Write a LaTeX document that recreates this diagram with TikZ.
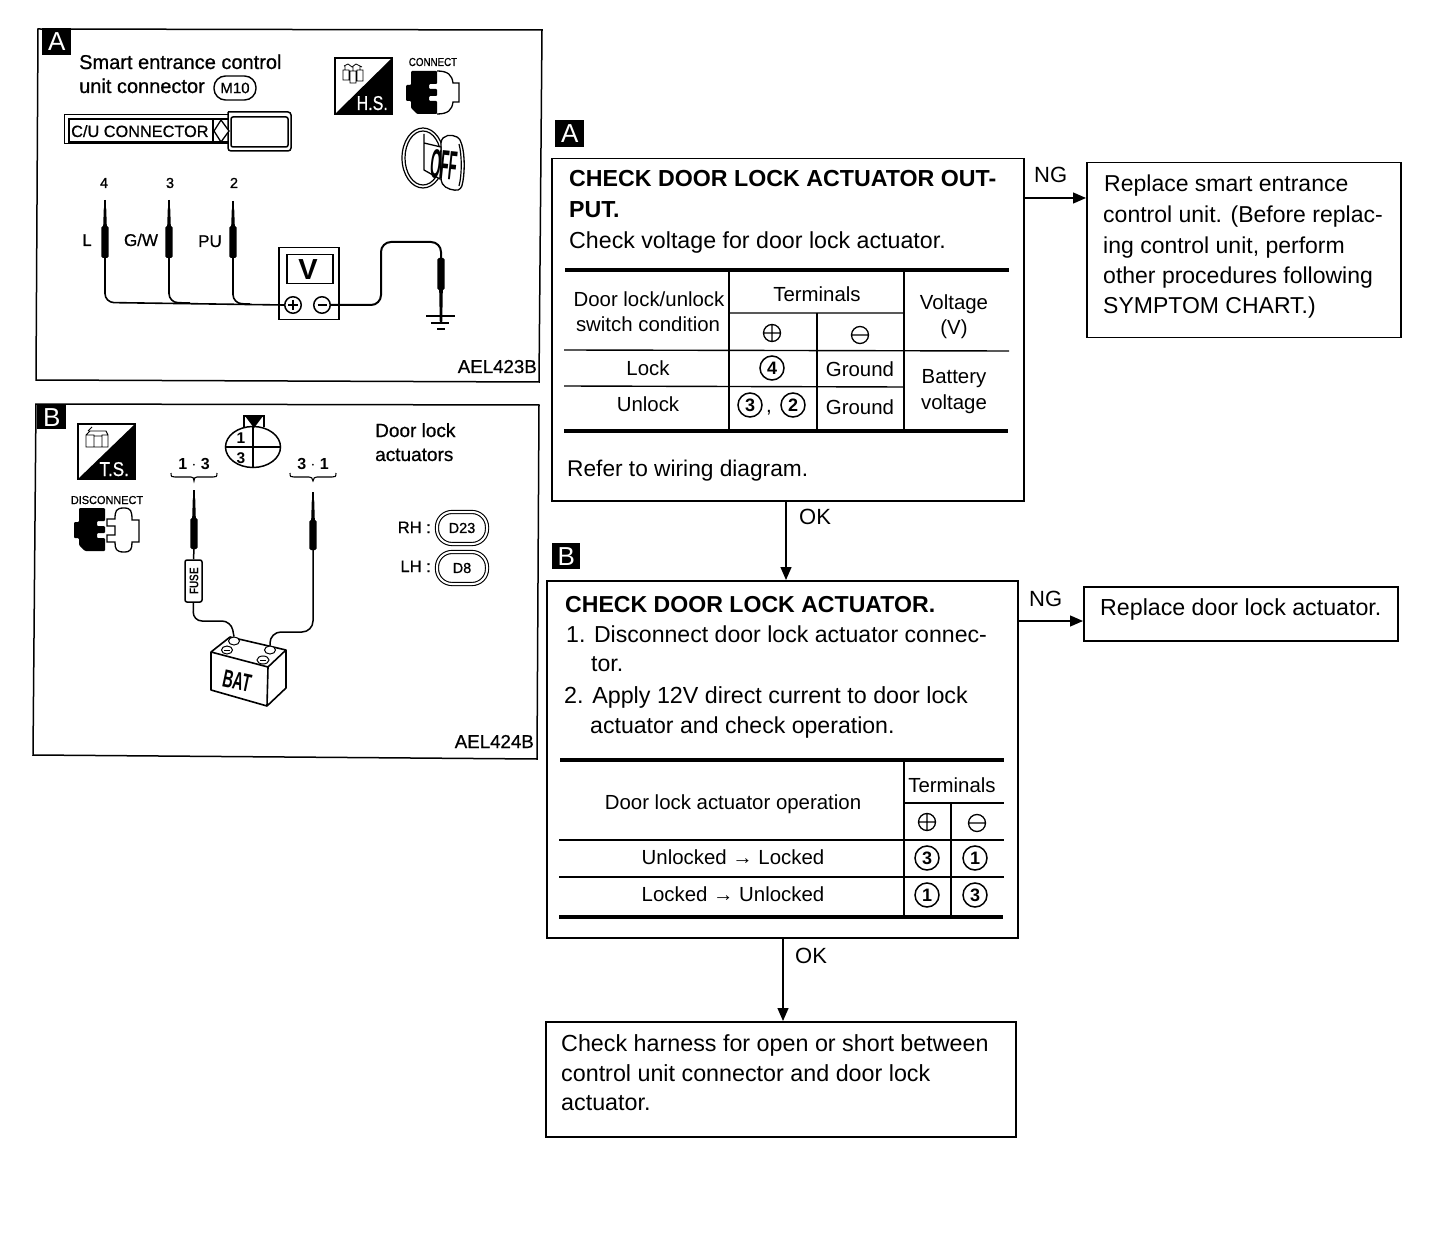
\documentclass[tikz,border=0pt]{standalone}
\usepackage{fontspec}
\setmainfont{Liberation Sans}
\newfontfamily\pf[FakeBold=0.7]{Liberation Sans}
\usetikzlibrary{arrows.meta,calc,shapes.geometric}
\newcounter{tn}
\newcommand\TL[4]{\stepcounter{tn}\node[lab,font=\fontsize{#1pt}{#1pt}\selectfont] (t\thetn) at (#2,#3) {#4};}
\newcommand\TC[4]{\stepcounter{tn}\node[labc,font=\fontsize{#1pt}{#1pt}\selectfont] (t\thetn) at (#2,#3) {#4};}
\newcommand\TR[4]{\stepcounter{tn}\node[labr,font=\fontsize{#1pt}{#1pt}\selectfont] (t\thetn) at (#2,#3) {#4};}
\newcommand\CN[3]{\stepcounter{tn}\node[circnum] (t\thetn) at (#1,#2) {\fontsize{18pt}{18pt}\selectfont\bfseries #3};}
\newcommand\PLUS[2]{\draw[thin line] (#1,#2) circle (8.5) (#1-8.5,#2) -- (#1+8.5,#2) (#1,#2-8.5) -- (#1,#2+8.5);}
\newcommand\MINUS[2]{\draw[thin line] (#1,#2) circle (8.5) (#1-8.5,#2) -- (#1+8.5,#2);}
\newcommand\PROBE[4]{% x, tip y, thick top, thick bottom
  \draw[line width=1.2] (#1,#2) -- (#1,#3);
  \fill (#1-1.2,#2+8) -- (#1+1.2,#2+8) -- (#1+1.8,#3) -- (#1-1.8,#3) -- cycle;
  \fill[rounded corners=1.5] (#1-3.7,#3) rectangle (#1+3.7,#4);}
\newcommand\BLACKPLUG{\fill[rounded corners=1] (5,0) -- (31,0) -- (31,13) -- (23,13) -- (23,18) -- (31,18) -- (31,25) -- (23,25) -- (23,30) -- (31,30) -- (31,43) -- (11,43) -- (5,37) -- (5,30) -- (0,30) -- (0,14) -- (5,14) -- cycle;}
\tikzset{
  x=1pt,y=-1pt,
  lab/.style={inner sep=0pt,anchor=base west},
  labc/.style={inner sep=0pt,anchor=base},
  labr/.style={inner sep=0pt,anchor=base east},
  flowbox/.style={draw,line width=1.5pt,inner sep=0pt,anchor=north west},
  circnum/.style={draw,circle,line width=1.5pt,minimum size=24pt,inner sep=0pt},
  thin line/.style={line width=1.3pt},
  wire/.style={line width=1.6pt,rounded corners=9pt},
  flowarrow/.style={line width=1.3pt,-{Triangle[length=13pt,width=11pt]}},
  rule/.style={line width=1.4pt},
  thickrule/.style={line width=4pt},
  tagbox/.style={fill=black,text=white,inner sep=0pt,anchor=north west,font=\fontsize{26pt}{26pt}\selectfont},
}
\begin{document}
\begin{tikzpicture}
\useasboundingbox (0,0) rectangle (1440,1238);
\fill[white] (0,0) rectangle (1440,1238);
%% Panel A
\draw[line width=1.5pt] (38,29) -- (542,30) -- (539,382) -- (36,380) -- cycle;
\node[tagbox,minimum width=29pt,minimum height=27pt] (tagA) at (42,28) {A};
\TL{20}{79}{69}{\pf Smart entrance control}
\TL{20}{79}{93}{\pf unit connector}
\node[draw,line width=1.4pt,rounded corners=11.5pt,minimum width=42pt,minimum height=24pt,inner sep=0pt,font=\fontsize{15pt}{15pt}\selectfont\pf] (m10) at (235,88) {M10};
% C/U connector label
\draw[line width=1pt] (64,115) rectangle (229,144);
\draw[line width=1.3pt] (69,119) rectangle (229,142);
\draw[line width=1.5pt,fill=white,rounded corners=3pt] (228,112) -- (291,112) -- (291,151) -- (228,151) -- (228,112);
\draw[line width=1.5pt,rounded corners=2pt] (231,117) rectangle (288,147);
\draw[line width=1.3pt] (213,119) -- (213,142);
\draw[line width=1.3pt,fill=white] (221,120) -- (229,131) -- (221,142) -- (214,131) -- cycle;
\TL{16.3}{71}{137}{\pf C/U CONNECTOR}
% H.S. tag
\draw[line width=1.2pt] (335,58) rectangle (392,114);
\fill (392,58) -- (392,114) -- (335,114) -- cycle;
\TR{20}{388}{110}{\color{white}\pf\scalebox{.8}[1]{H.S.}}
\draw[line width=.8pt] (343,70) rectangle (349,80) (350,71) rectangle (356,83) (357,70) rectangle (363,81) (344,66) -- (348,64) -- (352,67) -- (356,64) -- (362,67) (345,70) -- (345,66) (353,71) -- (353,67) (360,70) -- (360,66);
% connect icon
\TC{11.5}{433}{66}{\pf\scalebox{.85}[1]{CONNECT}}
\begin{scope}[shift={(406,71)}]
\BLACKPLUG
\draw[line width=1.3pt] (31,0) .. controls (42,0) and (46,4) .. (47,12) -- (53,12) -- (53,31) -- (47,31) .. controls (46,39) and (42,43) .. (31,43);
\end{scope}
% key
\draw[line width=1.2pt] (423,158) ellipse (21 and 30);
\draw[line width=1.2pt] (423,158) ellipse (18 and 27);
\draw[line width=1.3pt,fill=white,rounded corners=3pt] (441,140) .. controls (448,133) and (458,136) .. (461,142) .. controls (465,155) and (465,175) .. (461,189) .. controls (455,191) and (445,189) .. (441,181) -- cycle;
\draw[line width=1.2pt] (459,144) .. controls (462,155) and (462,175) .. (459,186);
\draw[line width=1.3pt,fill=white] (424,134) -- (424,170) -- (440,179) -- (441,147) -- (424,143);
\stepcounter{tn}\node[inner sep=0pt,rotate=-6,font=\fontsize{20pt}{20pt}\selectfont\bfseries] (t\thetn) at (444,165) {\scalebox{.68}[2.05]{OFF}};
% probes
\TC{14.5}{104}{188}{\pf 4}
\TC{14.5}{170}{188}{\pf 3}
\TC{14.5}{234}{188}{\pf 2}
\PROBE{105}{200}{226}{258}
\PROBE{169}{200}{226}{258}
\PROBE{233}{201}{226}{258}
\TC{17}{87}{246}{\pf L}
\TC{17}{141}{246}{\pf G/W}
\TC{17}{210}{247}{\pf PU}
% voltmeter
\node[draw,line width=1.5pt,minimum width=60pt,minimum height=72pt,inner sep=0pt,anchor=north west] (vm) at (278,247) {};
\node[draw,line width=1.5pt,minimum width=46pt,minimum height=29pt,inner sep=0pt,anchor=north west] (vd) at (286,254) {};
\TC{29}{308}{280}{\bfseries V}
\node[draw,circle,line width=1.5pt,minimum size=16.5pt,inner sep=0pt] (vp) at (293,305) {};
\node[draw,circle,line width=1.5pt,minimum size=16.5pt,inner sep=0pt] (vn) at (322,305) {};
\draw[line width=1.2pt] (288,305) -- (298,305) (293,300) -- (293,310);
\draw[line width=1.6pt] (317.5,305) -- (326.5,305);
\draw[wire] (105,258) -- (105,302.5) -- (vp.west);
\draw[wire] (169,258) -- (169,302.5) -- (190,303);
\draw[wire] (233,258) -- (233,303.5) -- (250,304);
\coordinate (gtop) at (441,258);
\draw[line width=2pt,rounded corners=10pt] (vn.east) -- (381,305) -- (381,242) -- (441,242) -- (gtop);
\PROBE{441}{316}{290}{258}
\draw[line width=2pt] (426,316.5) -- (455,316.5);
\draw[line width=1.8pt] (431,323) -- (449,323);
\draw[line width=2.5pt] (437,329) -- (445,329);
\TR{18.7}{537}{373}{\pf AEL423B}
%% Panel B
\draw[line width=1.5pt] (36,404) -- (539,405) -- (537,759) -- (33,755) -- cycle;
\node[tagbox,minimum width=29pt,minimum height=24pt] (tagB) at (37,405) {B};
\draw[line width=1.2pt] (78,424) rectangle (135,479);
\fill (135,424) -- (135,479) -- (78,479) -- cycle;
\TR{20}{129}{476}{\color{white}\pf\scalebox{.85}[1]{T.S.}}
\draw[line width=.9pt] (86,435) rectangle (94,447) (94,436) rectangle (102,447) (102,435) rectangle (108,447) (86,435) -- (90,431) -- (106,431) -- (108,435) (88,431) -- (92,427);
\TC{11.5}{107}{504}{\pf\scalebox{.95}[1]{DISCONNECT}}
\begin{scope}[shift={(74,508)}]
\BLACKPLUG
\draw[line width=1.3pt] (50,0) .. controls (42,0) and (41,3) .. (41,11) -- (33,11) -- (33,18) -- (41,18) -- (41,27) -- (33,27) -- (33,34) -- (41,34) .. controls (41,41) and (42,44) .. (50,44) .. controls (57,44) and (58,41) .. (58,34) -- (65,34) -- (65,12) -- (58,12) .. controls (58,3) and (57,0) .. (50,0) -- cycle;
\end{scope}
% connector face
\draw[line width=1.3pt] (244,427) -- (244,416) -- (264,416) -- (264,427);
\fill (245,416) -- (263,416) -- (254,428) -- cycle;
\node[draw,ellipse,line width=1.5pt,minimum width=55pt,minimum height=41pt,inner sep=0pt] (face) at (253,447) {};
\draw[line width=1.5pt] (face.west) -- (face.east) (face.north) -- (face.south);
\TC{15.5}{241}{443}{\bfseries 1}
\TC{15.5}{241}{463}{\bfseries 3}
\TC{16}{194}{469}{\bfseries 1 $\cdot$ 3}
\TC{16}{313}{469}{\bfseries 3 $\cdot$ 1}
\draw[line width=1.1pt] (171,473) .. controls (171,477) and (172,477) .. (175,477) -- (191,477) .. controls (193,477) and (194,478) .. (194,481) .. controls (194,478) and (195,477) .. (197,477) -- (213,477) .. controls (216,477) and (217,477) .. (217,473);
\draw[line width=1.1pt] (290,473) .. controls (290,477) and (291,477) .. (294,477) -- (309,477) .. controls (311,477) and (313,478) .. (313,481) .. controls (313,478) and (315,477) .. (317,477) -- (332,477) .. controls (335,477) and (336,477) .. (336,473);
\PROBE{194}{490}{518}{549}
\PROBE{313}{492}{520}{550}
\node[draw,line width=1.5pt,rounded corners=2pt,minimum width=17pt,minimum height=42pt,inner sep=0pt] (fuse) at (193.5,581) {};
\stepcounter{tn}\node[inner sep=0pt,rotate=90,font=\fontsize{12.5pt}{12.5pt}\selectfont\bfseries] (t\thetn) at (194,581) {\scalebox{.8}[1]{FUSE}};
\draw[line width=1.5pt] (194,549) -- (fuse.north);
% battery
\draw[line width=1.6pt,line join=round,fill=white] (211,652) -- (230,637) -- (286,650) -- (268,667) -- cycle;
\draw[line width=1.6pt,line join=round] (211,652) -- (211,690) -- (267,706) -- (286,688) -- (286,650) (268,667) -- (267,706);
\node[draw,ellipse,line width=1pt,minimum width=11pt,minimum height=8pt,inner sep=0pt,fill=white] (posT) at (234,641) {};
\node[draw,ellipse,line width=1pt,minimum width=11pt,minimum height=8pt,inner sep=0pt,fill=white] (negT) at (270,650) {};
\draw[line width=1pt] (227,650) ellipse (5.5 and 4) (263,660) ellipse (6 and 4);
\draw[line width=.8pt] (224,650) -- (230,650) (260,660) -- (266,660);
\draw[line width=1.5pt,rounded corners=9pt] (fuse.south) -- (193,621) -- (231,621) -- (posT.north);
\draw[line width=1.5pt,rounded corners=11pt] (313,550) -- (313,632) -- (270,632) -- (negT.north);
\stepcounter{tn}\node[inner sep=0pt,rotate=-12,font=\fontsize{20pt}{20pt}\selectfont\bfseries] (t\thetn) at (237,681) {\scalebox{.72}[1.25]{BAT}};
\TL{19}{375}{437}{\pf Door lock}
\TL{19}{375}{461}{\pf actuators}
\TR{16.5}{431}{533}{\pf RH :}
\TR{16.5}{431}{572}{\pf LH :}
\node[draw,double,double distance=2pt,line width=1.1pt,rounded corners=15pt,minimum width=50pt,minimum height=32pt,inner sep=0pt,font=\fontsize{14.5pt}{14.5pt}\selectfont\pf] (d23) at (462,528) {D23};
\node[draw,double,double distance=2pt,line width=1.1pt,rounded corners=15pt,minimum width=50pt,minimum height=32pt,inner sep=0pt,font=\fontsize{14.5pt}{14.5pt}\selectfont\pf] (d8) at (462,568) {D8};
\TR{18.7}{534}{748}{\pf AEL424B}
%% Flow
\node[tagbox,minimum width=29pt,minimum height=27pt] (tagA2) at (555,120) {A};
\node[tagbox,minimum width=28pt,minimum height=26pt] (tagB2) at (552,543) {B};
\node[flowbox,minimum width=472pt,minimum height=342pt] (boxA) at (551,158) {};
\node[flowbox,minimum width=314pt,minimum height=175pt] (replA) at (1086,162) {};
\node[flowbox,minimum width=471pt,minimum height=357pt] (boxB) at (546,580) {};
\node[flowbox,minimum width=314pt,minimum height=54pt] (replB) at (1083,586) {};
\node[flowbox,minimum width=470pt,minimum height=115pt] (boxC) at (545,1021) {};
\coordinate (ngA) at (1023,198);
\coordinate (ngB) at (1017,621);
\coordinate (okA) at (786,500);
\coordinate (okB) at (783,937);
\draw[flowarrow] (ngA) -- (ngA -| replA.west);
\draw[flowarrow] (ngB) -- (ngB -| replB.west);
\draw[flowarrow] (okA) -- (okA |- boxB.north);
\draw[flowarrow] (okB) -- (okB |- boxC.north);
\TL{22}{1034}{183}{NG}
\TL{22}{1029}{606}{NG}
\TL{22}{799}{524}{OK}
\TL{22}{795}{963}{OK}
% box A text
\TL{23.2}{569}{187}{\bfseries CHECK DOOR LOCK ACTUATOR OUT-}
\TL{23.2}{569}{218}{\bfseries PUT.}
\TL{23.2}{569}{249}{Check voltage for door lock actuator.}
\draw[thickrule] (565,270.5) -- (1009,270.5);
\draw[thickrule] (564,431) -- (1008,431);
\draw[rule] (729,270) -- (729,430) (904,270) -- (904,432) (817,313) -- (817,430);
\draw[rule] (729,313) -- (904,313) (564,350) -- (1009,351) (564,386) -- (904,387);
\TC{20.4}{649}{307}{Door lock/unlock}
\TC{20.4}{648}{332}{switch condition}
\TC{20.4}{817}{302}{Terminals}
\TC{20.4}{954}{310}{Voltage}
\TC{20.4}{954}{335}{(V)}
\PLUS{772}{333}
\MINUS{860}{335}
\TC{20.4}{648}{375}{Lock}
\CN{772}{368}{4}
\TC{20.4}{860}{377}{Ground}
\TC{20.4}{954}{384}{Battery}
\TC{20.4}{954}{409}{voltage}
\TC{20.4}{648}{411}{Unlock}
\CN{750}{405}{3}
\TC{20.4}{769}{412}{,}
\CN{793}{405}{2}
\TC{20.4}{860}{414}{Ground}
\TL{22.7}{567}{476}{Refer to wiring diagram.}
% repl A
\TL{23}{1104}{192}{Replace smart entrance}
\TL{23}{1103}{223}{control unit. (Before replac-}
\TL{23}{1103}{254}{ing control unit, perform}
\TL{23}{1103}{284}{other procedures following}
\TL{23}{1103}{314}{SYMPTOM CHART.)}
% box B text
\TL{23.1}{565}{612}{\bfseries CHECK DOOR LOCK ACTUATOR.}
\TL{23.1}{566}{642}{1. Disconnect door lock actuator connec-}
\TL{23.1}{591}{671}{tor.}
\TL{23.3}{564}{703}{2. Apply 12V direct current to door lock}
\TL{23.1}{590}{733}{actuator and check operation.}
\draw[thickrule] (560,760) -- (1004,760);
\draw[thickrule] (559,917) -- (1003,917);
\draw[rule] (904,760) -- (904,918) (951,803) -- (951,918);
\draw[rule] (904,803) -- (1004,803) (559,840) -- (1004,840) (559,877) -- (1004,877);
\TC{20.4}{733}{809}{Door lock actuator operation}
\TC{20.4}{952}{792}{Terminals}
\PLUS{927}{822}
\MINUS{977}{823}
\TC{20.4}{733}{864}{Unlocked → Locked}
\TC{20.4}{733}{901}{Locked → Unlocked}
\CN{927}{858}{3}
\CN{975}{858}{1}
\CN{927}{895}{1}
\CN{975}{895}{3}
\TL{23.2}{1100}{615}{Replace door lock actuator.}
% box C
\TL{23.3}{561}{1051}{Check harness for open or short between}
\TL{23.3}{561}{1081}{control unit connector and door lock}
\TL{23.3}{561}{1110}{actuator.}
\end{tikzpicture}
\end{document}
